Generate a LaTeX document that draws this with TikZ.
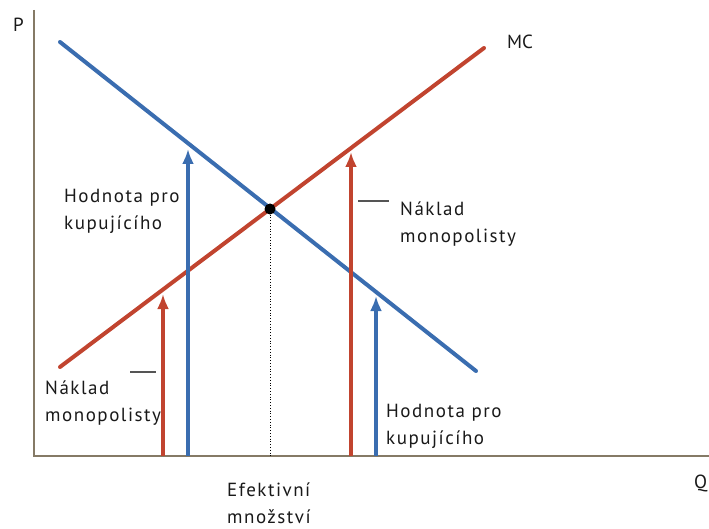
\documentclass[tikz,border=0pt]{standalone}
\usepackage{fontspec}
\setmainfont{PT Sans}
\newfontfamily\lblfont[LetterSpace=8]{PT Sans}
\usetikzlibrary{arrows.meta}
\definecolor{axiscol}{HTML}{857A66}
\definecolor{bluecol}{HTML}{3A6DB0}
\definecolor{redcol}{HTML}{C1442F}
\definecolor{dashcol}{HTML}{555555}
\tikzset{
  axisline/.style={draw=axiscol, line width=2.8pt},
  curveblue/.style={draw=bluecol, line width=4pt, line cap=round},
  curvered/.style={draw=redcol, line width=4pt, line cap=round},
  arrowblue/.style={draw=bluecol, line width=4pt, -{Latex[width=12pt,length=15pt]}, fill=bluecol},
  arrowred/.style={draw=redcol, line width=4pt, -{Latex[width=12pt,length=15pt]}, fill=redcol},
  lbl/.style={font=\lblfont\fontsize{19}{27}\selectfont, inner sep=0pt, align=left, text=black!90},
  axlbl/.style={font=\fontsize{19}{22}\selectfont, inner sep=0pt, text=black!90},
  tick/.style={draw=dashcol, line width=2pt},
}
\begin{document}
\begin{tikzpicture}[x=1pt, y=-1pt]
\useasboundingbox (0,0) rectangle (709,529);
% axes
\coordinate (o) at (34,456);
\coordinate (ytop) at (34,10);
\coordinate (xend) at (709,456);
\draw[axisline] (ytop) -- (o) -- (xend);
\node[axlbl, anchor=base west] (P) at (13,32) {P};
\node[axlbl, anchor=base west] (Q) at (694,488) {Q};
% demand (blue) and MC (red)
\coordinate (b1) at (60,42);
\coordinate (b2) at (476,371);
\coordinate (r1) at (60,367);
\coordinate (r2) at (484,48);
\draw[curvered] (r1) -- (r2);
\draw[curveblue] (b1) -- (b2);
\node[axlbl, anchor=base west] (MC) at (507,49) {MC};
% efficient point
\coordinate (eq) at (270,209);
\coordinate (eqb) at (270,456);
\draw[black, line width=0.8pt, dotted] (eq) -- (eqb);
\fill[black] (eq) circle (5.5pt);
% arrows
\coordinate (ra1) at (163,456); \coordinate (ra1t) at (163,294);
\coordinate (ba1) at (188,456); \coordinate (ba1t) at (188,149);
\coordinate (ra2) at (351,456); \coordinate (ra2t) at (351,152);
\coordinate (ba2) at (376,456); \coordinate (ba2t) at (376,296);
\draw[arrowred] (ra1) -- (ra1t);
\draw[arrowblue] (ba1) -- (ba1t);
\draw[arrowred] (ra2) -- (ra2t);
\draw[arrowblue] (ba2) -- (ba2t);
% labels (anchor = baseline of the last line)
\node[lbl, anchor=base west] (hv1) at (64,230) {Hodnota pro\\kupujícího};
\node[lbl, anchor=base west] (nk1) at (400,243) {Náklad\\monopolisty};
\node[lbl, anchor=base west] (nk2) at (45,421) {Náklad\\monopolisty};
\node[lbl, anchor=base west] (hv2) at (386,444) {Hodnota pro\\kupujícího};
\node[lbl, anchor=base west] (ef) at (227,523) {Efektivní\\množství};
% small dashes
\coordinate (d1a) at (358,201); \coordinate (d1b) at (389,201);
\coordinate (d2a) at (130,372); \coordinate (d2b) at (156,372);
\draw[tick] (d1a) -- (d1b);
\draw[tick] (d2a) -- (d2b);
\end{tikzpicture}
\end{document}
